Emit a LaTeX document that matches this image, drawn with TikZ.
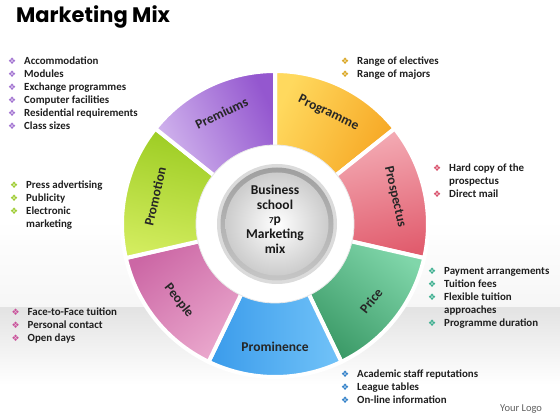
\documentclass[tikz,border=0pt]{standalone}
\usepackage{fontspec}
\setmainfont{Carlito}
\newfontfamily\symfont{DejaVu Sans}
\newfontfamily\titlefont{Poppins}
\usetikzlibrary{calc}
\definecolor{purA}{HTML}{D2B6EE}\definecolor{purB}{HTML}{9457CF}
\definecolor{yelA}{HTML}{FFD95E}\definecolor{yelB}{HTML}{F6A623}
\definecolor{pnkA}{HTML}{F4ADB6}\definecolor{pnkB}{HTML}{E15D6E}
\definecolor{grnA}{HTML}{80D6AA}\definecolor{grnB}{HTML}{3A9966}
\definecolor{bluA}{HTML}{72C3F8}\definecolor{bluB}{HTML}{3A9BEB}
\definecolor{ppkA}{HTML}{EAA8CD}\definecolor{ppkB}{HTML}{CC67A5}
\definecolor{limA}{HTML}{D2EC5E}\definecolor{limB}{HTML}{9CCC22}
\definecolor{bPur}{HTML}{A070D0}\definecolor{bYel}{HTML}{D9A520}
\definecolor{bPnk}{HTML}{D94F6A}\definecolor{bLim}{HTML}{9CCB2E}
\definecolor{bTea}{HTML}{3AAE8E}\definecolor{bPpk}{HTML}{C9509A}
\definecolor{bBlu}{HTML}{2F7FC8}
\newcommand\blt[1]{\makebox[16pt][l]{\symfont\fontsize{9}{9}\selectfont\color{#1}❖}}
\newcommand\cont{\hspace*{16pt}}
\begin{document}
\begin{tikzpicture}[x=1pt,y=1pt,
  seglab/.style={font=\bfseries\fontsize{13.5}{15}\selectfont, text=black!85, inner sep=0},
  listn/.style={anchor=base west, inner sep=0, font=\bfseries\fontsize{10.9}{13}\selectfont, text=black!88},
  ]
\useasboundingbox (0,0) rectangle (560,420);
\fill[white] (0,0) rectangle (560,420);
\shade[top color=white, bottom color=gray!7] (0,112) rectangle (560,200);
\shade[top color=gray!22, bottom color=white] (0,35) rectangle (560,112);
\coordinate (C) at (275,196);
% title
\node[anchor=base west, inner sep=0, font=\titlefont\bfseries\fontsize{21}{25}\selectfont] (title) at (16,397) {Marketing Mix};
% segments
\foreach \n/\a/\ca/\cb/\txt/\rot in {
 prog/90/yelA/yelB/Programme/-25.71,
 prosp/38.571/pnkA/pnkB/Prospectus/-77.14,
 price/-12.857/grnA/grnB/Price/51.43,
 prom/-64.286/bluA/bluB/Prominence/0,
 peop/-115.714/ppkA/ppkB/People/-51.43,
 promo/-167.143/limA/limB/Promotion/77.14,
 prem/-218.571/purA/purB/Premiums/25.71}
{
 \pgfmathsetmacro\b{\a-51.4286}
 \pgfmathsetmacro\m{\a-25.7143}
 \shadedraw[draw=white, line width=4pt, top color=\ca, bottom color=\cb, shading angle=\m]
   ($(C)+(\a:153)$) arc[start angle=\a, end angle=\b, radius=153]
   -- ($(C)+(\b:70)$) arc[start angle=\b, end angle=\a, radius=70] -- cycle;
 \node[seglab, rotate=\rot] (l\n) at ($(C)+(\m:123)$) {\txt};
}
% centre
\fill[white] (C) circle (79);
\draw[gray!18, line width=0.8pt] (C) circle (79);
\fill[gray!28] ($(C)+(2,0)$) circle (60);
\shade[top color=gray!75, bottom color=gray!45] ($(C)+(2,0)$) circle (56.5);
\shade[inner color=white, outer color=gray!40] ($(C)+(2,0)$) circle (51.5);
\node[inner sep=0, align=center, font=\bfseries\fontsize{13.5}{14.7}\selectfont, text=black!90] (ctext) at (275,201)
  {Business\\school\\{\fontsize{9}{9}\selectfont 7}p\\Marketing\\mix};
% lists
\node[listn] (Lprem) at (8,355.5) {\begin{tabular}[t]{@{}l@{}}
 \blt{bPur}Accommodation\\ \blt{bPur}Modules\\ \blt{bPur}Exchange programmes\\
 \blt{bPur}Computer facilities\\ \blt{bPur}Residential requirements\\ \blt{bPur}Class sizes\end{tabular}};
\node[listn] (Lprog) at (341,355.5) {\begin{tabular}[t]{@{}l@{}}
 \blt{bYel}Range of electives\\ \blt{bYel}Range of majors\end{tabular}};
\node[listn] (Lprosp) at (433,248.5) {\begin{tabular}[t]{@{}l@{}}
 \blt{bPnk}Hard copy of the\\ \cont prospectus\\ \blt{bPnk}Direct mail\end{tabular}};
\node[listn] (Lpromo) at (10,231.5) {\begin{tabular}[t]{@{}l@{}}
 \blt{bLim}Press advertising\\ \blt{bLim}Publicity\\ \blt{bLim}Electronic\\ \cont marketing\end{tabular}};
\node[listn] (Lprice) at (428,145.5) {\begin{tabular}[t]{@{}l@{}}
 \blt{bTea}Payment arrangements\\ \blt{bTea}Tuition fees\\ \blt{bTea}Flexible tuition\\
 \cont approaches\\ \blt{bTea}Programme duration\end{tabular}};
\node[listn] (Lpeop) at (11.5,104.5) {\begin{tabular}[t]{@{}l@{}}
 \blt{bPpk}Face-to-Face tuition\\ \blt{bPpk}Personal contact\\ \blt{bPpk}Open days\end{tabular}};
\node[listn] (Lprom) at (341,42.5) {\begin{tabular}[t]{@{}l@{}}
 \blt{bBlu}Academic staff reputations\\ \blt{bBlu}League tables\\ \blt{bBlu}On-line information\end{tabular}};
\node[anchor=base west, inner sep=0, font=\fontsize{10.5}{12}\selectfont, text=gray!75!black] (logo) at (500,8) {Your Logo};
\end{tikzpicture}
\end{document}
